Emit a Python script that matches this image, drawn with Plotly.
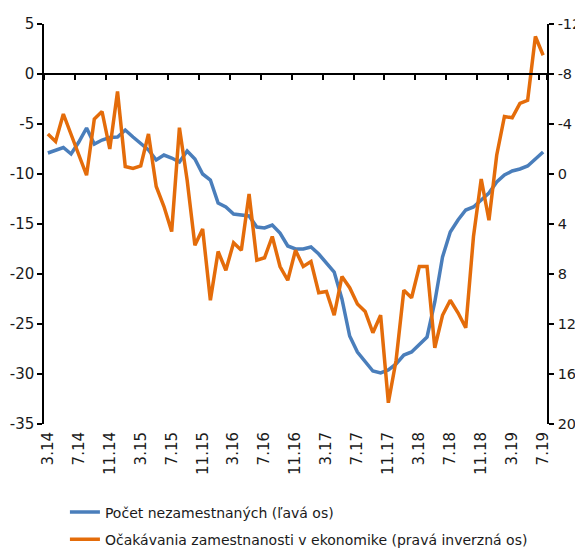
import plotly.graph_objects as go

months = ["3.14","4.14","5.14","6.14","7.14","8.14","9.14","10.14","11.14","12.14",
          "1.15","2.15","3.15","4.15","5.15","6.15","7.15","8.15","9.15","10.15","11.15","12.15",
          "1.16","2.16","3.16","4.16","5.16","6.16","7.16","8.16","9.16","10.16","11.16","12.16",
          "1.17","2.17","3.17","4.17","5.17","6.17","7.17","8.17","9.17","10.17","11.17","12.17",
          "1.18","2.18","3.18","4.18","5.18","6.18","7.18","8.18","9.18","10.18","11.18","12.18",
          "1.19","2.19","3.19","4.19","5.19","6.19","7.19"]

unemployed = [-7.9, -7.6, -7.35, -8.0, -6.8, -5.4, -7.0, -6.6, -6.35, -6.3,
              -5.6, -6.3, -6.9, -7.6, -8.6, -8.1, -8.4, -8.8, -7.7, -8.5,
              -10.0, -10.6, -12.9, -13.3, -14.0, -14.1, -14.2, -15.3, -15.4, -15.1,
              -15.9, -17.2, -17.5, -17.5, -17.3, -18.0, -18.9, -19.8, -22.5, -26.2,
              -27.8, -28.8, -29.7, -29.9, -29.6, -29.0, -28.1, -27.8, -27.1, -26.3,
              -22.8, -18.3, -15.8, -14.6, -13.6, -13.3, -12.6, -11.9, -10.8, -10.1,
              -9.7, -9.5, -9.2, -8.5, -7.8]

expectations = [-3.2, -2.6, -4.8, -3.2, -1.5, 0.1, -4.4, -5.0, -2.0, -6.6,
                -0.6, -0.45, -0.65, -3.2, 1.0, 2.6, 4.6, -3.7, 0.5, 5.7,
                4.4, 10.1, 6.2, 7.7, 5.5, 6.1, 1.6, 6.9, 6.7, 5.0,
                7.4, 8.5, 6.1, 7.4, 7.0, 9.5, 9.4, 11.3, 8.2, 9.1,
                10.4, 11.0, 12.7, 11.3, 18.3, 14.9, 9.3, 9.9, 7.4, 7.4,
                13.9, 11.3, 10.1, 11.1, 12.3, 5.0, 0.4, 3.7, -1.5, -4.6,
                -4.5, -5.65, -5.9, -11.0, -9.5]

tick_labels = ["3.14","7.14","11.14","3.15","7.15","11.15","3.16","7.16","11.16",
               "3.17","7.17","11.17","3.18","7.18","11.18","3.19","7.19"]
left_ticks = [5, 0, -5, -10, -15, -20, -25, -30, -35]
right_ticks = [-12, -8, -4, 0, 4, 8, 12, 16, 20]

name_blue = "Počet nezamestnaných (ľavá os)"
name_orange = "Očakávania zamestnanosti v ekonomike (pravá inverzná os)"

BLUE = "#4A7EBB"
ORANGE = "#E46C0A"
FONT = "DejaVu Sans"
TXT = "#1a1a1a"

x = list(range(len(months)))
tickpos = [months.index(t) for t in tick_labels]

fig = go.Figure()
fig.add_trace(go.Scatter(x=x, y=unemployed, mode="lines", name=name_blue,
                         line=dict(color=BLUE, width=3.5), legendgroup="a",
                         xaxis="x", yaxis="y"))
fig.add_trace(go.Scatter(x=x, y=expectations, mode="lines", name=name_orange,
                         line=dict(color=ORANGE, width=3.5), legendgroup="b",
                         xaxis="x", yaxis="y2"))
# invisible helper trace for the axis line drawn at zero
fig.add_trace(go.Scatter(x=[None], y=[None], mode="lines", showlegend=False,
                         hoverinfo="skip", xaxis="x2", yaxis="y"))

# page body has an 8px margin, so the figure is 8px smaller each way
fig.update_layout(
    width=575, height=540,
    margin=dict(l=36, r=36, t=16, b=124, autoexpand=False),
    plot_bgcolor="white", paper_bgcolor="white",
    font=dict(family=FONT, size=15, color=TXT),
    showlegend=True,
    legend=dict(xref="container", yref="container", x=0.099, y=0.0954,
                xanchor="left", yanchor="top",
                orientation="v", traceorder="grouped", tracegroupgap=6,
                font=dict(family=FONT, size=14, color=TXT),
                bgcolor="rgba(0,0,0,0)"),
    xaxis=dict(range=[-0.5, len(months) - 0.5], tickvals=tickpos, ticktext=tick_labels,
               tickangle=-90, ticks="", showline=False, showgrid=False, zeroline=False,
               automargin=False, ticklabelstandoff=4, tickfont=dict(size=15)),
    xaxis2=dict(range=[-0.5, len(months) - 0.5], overlaying="x", anchor="free",
                position=(0 - left_ticks[-1]) / (left_ticks[0] - left_ticks[-1]),
                tickvals=[p - 0.5 for p in tickpos] + [len(months) - 0.5],
                showticklabels=False, ticks="outside", ticklen=5, tickcolor="black",
                tickwidth=1.5, showline=True, linecolor="black", linewidth=1.5,
                showgrid=False, zeroline=False, automargin=False),
    yaxis=dict(range=[left_ticks[-1], left_ticks[0]], tickvals=left_ticks,
               ticktext=[str(v) for v in left_ticks], ticks="outside", ticklen=5,
               tickcolor="black", tickwidth=1.5, showline=True, linecolor="black",
               linewidth=1.5, showgrid=False, zeroline=False, automargin=False,
               tickfont=dict(size=15)),
    yaxis2=dict(range=[right_ticks[-1], right_ticks[0]], tickvals=right_ticks,
                ticktext=[str(v) for v in right_ticks], overlaying="y", side="right",
                ticks="outside", ticklen=5, tickcolor="black", tickwidth=1.5,
                showline=True, linecolor="black", linewidth=1.5, showgrid=False,
                zeroline=False, automargin=False, ticklabelstandoff=1,
                tickfont=dict(size=14.5)),
)

fig.write_html("out.html")
